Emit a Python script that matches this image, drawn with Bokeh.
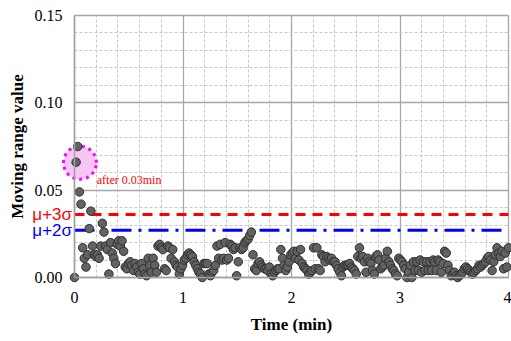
import numpy as np
from bokeh.plotting import figure
from bokeh.models import (Range1d, FixedTicker, NumeralTickFormatter, Label, PolyAnnotation,
                          BoxAnnotation, ColumnDataSource, LinearAxis, Grid)
from bokeh.embed import file_html
from bokeh.resources import INLINE

# ---- data ----
mr_seg1 = [0.000, 0.066, 0.075, 0.049, 0.042, 0.017, 0.011, 0.006, 0.013, 0.028, 0.038, 0.018,
           0.013, 0.012, 0.013, 0.011, 0.018, 0.031, 0.026, 0.018, 0.016, 0.002, 0.020, 0.014,
           0.011, 0.008, 0.019, 0.021, 0.018, 0.021, 0.015, 0.006, 0.005, 0.008, 0.009, 0.007,
           0.004, 0.008, 0.006, 0.003, 0.002, 0.008, 0.005, 0.002, 0.001, 0.011, 0.007, 0.003]
mr_seg2 = [0.011, 0.007, 0.003, 0.018, 0.019, 0.017, 0.016, 0.005, 0.004, 0.018, 0.017, 0.011,
           0.016, 0.009, 0.007, 0.006, 0.002, 0.005, 0.007, 0.010, 0.011, 0.013, 0.014, 0.013,
           0.012, 0.009, 0.007, 0.005, 0.003, 0.002, 0.000, 0.008, 0.008, 0.008, 0.002, 0.001,
           0.003, 0.004, 0.007, 0.018, 0.011, 0.019, 0.010, 0.011, 0.020, 0.010, 0.011, 0.019,
           0.018, 0.016, 0.017, 0.001]
mr_seg3 = [0.009, 0.017, 0.016, 0.017, 0.020, 0.021, 0.022, 0.024, 0.026, 0.013, 0.005, 0.004,
           0.008, 0.009, 0.007, 0.006, 0.005, 0.005, 0.004, 0.006, 0.002, 0.001, 0.003, 0.004,
           0.005, 0.005, 0.016, 0.011, 0.007, 0.004, 0.006, 0.009, 0.013, 0.014, 0.015, 0.011,
           0.015, 0.010, 0.016, 0.008, 0.006, 0.005, 0.004, 0.002, 0.003, 0.004, 0.017, 0.005,
           0.017, 0.005, 0.004, 0.013, 0.012, 0.009]
mr_seg4 = [0.012, 0.011, 0.010, 0.011, 0.009, 0.009, 0.007, 0.005, 0.003, 0.001, 0.006, 0.007,
           0.007, 0.007, 0.008, 0.006, 0.005, 0.004, 0.002, 0.012, 0.017, 0.011, 0.012, 0.009,
           0.003, 0.011, 0.009, 0.008, 0.004, 0.002, 0.012, 0.013, 0.010, 0.005, 0.006, 0.007,
           0.011, 0.015, 0.009, 0.007, 0.005, 0.004, 0.002, 0.001, 0.011, 0.010, 0.009, 0.007,
           0.005, 0.000, 0.003, 0.007]
mr_seg5 = [0.000, 0.009, 0.004, 0.009, 0.004, 0.010, 0.003, 0.009, 0.004, 0.009, 0.004, 0.009,
           0.004, 0.010, 0.009, 0.004, 0.010, 0.009, 0.003, 0.008, 0.015, 0.014, 0.007, 0.004,
           0.001, 0.002, 0.003, 0.001, 0.000, 0.001, 0.002, 0.003, 0.005, 0.006, 0.005, 0.004,
           0.003, 0.002, 0.003, 0.004, 0.005, 0.007, 0.006, 0.007, 0.008, 0.009, 0.011, 0.012,
           0.010, 0.004, 0.009, 0.013, 0.017, 0.014, 0.012, 0.015, 0.005, 0.014, 0.006, 0.017]
moving_range = mr_seg1 + mr_seg2 + mr_seg3 + mr_seg4 + mr_seg5
t_start, t_end = 0.0, 4.0
time_min = np.linspace(t_start, t_end, len(moving_range))

limit_3sigma = 0.036
limit_2sigma = 0.027
limit_labels = ["μ+3σ", "μ+2σ"]
highlight_t, highlight_v = 0.050, 0.0657
note_text = "after 0.03min"
note_t, note_v = 0.205, 0.0556
x_ticks = [0, 1, 2, 3, 4]
y_ticks = [0.0, 0.05, 0.10, 0.15]
y_min, y_max = 0.0, 0.15

serif = "Liberation Serif"
sans = "Liberation Sans"

# ---- layout (pixels) ----
W, H = 511, 341
PLOT_L, PLOT_R, PLOT_T, PLOT_B = 74, 508, 15, 277   # where the data box sits on the canvas
px_per_x = (PLOT_R - PLOT_L) / (t_end - t_start)
px_per_y = (PLOT_B - PLOT_T) / (y_max - y_min)
xr = Range1d(t_start - PLOT_L / px_per_x, t_end + (W - PLOT_R) / px_per_x)
yr = Range1d(y_min - (H - PLOT_B) / px_per_y, y_max + PLOT_T / px_per_y)

p = figure(width=W, height=H, output_backend="svg", toolbar_location=None,
           x_range=xr, y_range=yr, x_axis_location=None, y_axis_location=None,
           min_border=0)
p.background_fill_color = "white"
p.border_fill_color = "white"
p.outline_line_color = None
p.xgrid.visible = False
p.ygrid.visible = False

x_minor = [round(v, 1) for v in np.arange(t_start, t_end + 1e-9, 0.2) if round(v, 1) not in x_ticks]
y_minor = [round(v, 2) for v in np.arange(y_min, y_max + 1e-9, 0.01) if round(v, 2) not in y_ticks]
xticker = FixedTicker(ticks=x_ticks, minor_ticks=x_minor)
yticker = FixedTicker(ticks=y_ticks, minor_ticks=y_minor)

xgrid = Grid(dimension=0, ticker=xticker, bounds=(t_start, t_end))
ygrid = Grid(dimension=1, ticker=yticker, bounds=(y_min, y_max))
has_cross = "cross_bounds" in Grid.properties()
for g, cb in ((xgrid, (y_min, y_max)), (ygrid, (t_start, t_end))):
    g.grid_line_color = "#a6a6a6"
    g.grid_line_width = 1.3
    g.minor_grid_line_color = "#c8c8c8"
    g.minor_grid_line_dash = "3 2"
    g.minor_grid_line_width = 1
    if has_cross:
        g.cross_bounds = cb
    p.add_layout(g)

if not has_cross:
    mask = dict(fill_color="white", fill_alpha=1.0, line_color=None, level="underlay")
    p.add_layout(BoxAnnotation(left=xr.start, right=t_start, bottom=yr.start, top=yr.end, **mask))
    p.add_layout(BoxAnnotation(left=xr.start, right=xr.end, bottom=yr.start, top=y_min, **mask))
    p.add_layout(BoxAnnotation(left=xr.start, right=xr.end, bottom=y_max, top=yr.end, **mask))
    p.add_layout(BoxAnnotation(left=t_end, right=xr.end, bottom=yr.start, top=yr.end, **mask))

xaxis = LinearAxis(fixed_location=y_min, ticker=xticker, bounds=(t_start, t_end),
                   axis_label="Time (min)")
yaxis = LinearAxis(fixed_location=t_start, ticker=yticker, bounds=(y_min, y_max),
                   axis_label="Moving range value",
                   formatter=NumeralTickFormatter(format="0.00"))
for ax in (xaxis, yaxis):
    ax.axis_line_color = "#a0a0a0"
    ax.axis_line_width = 1.5
    ax.major_tick_line_color = None
    ax.minor_tick_line_color = None
    ax.major_tick_out = 0
    ax.major_tick_in = 0
    ax.minor_tick_out = 0
    ax.minor_tick_in = 0
    ax.major_label_text_font = serif
    ax.major_label_text_font_size = "16px"
    ax.major_label_text_color = "#000000"
    ax.axis_label_text_font = serif
    ax.axis_label_text_font_style = "bold"
    ax.axis_label_text_font_size = "17px"
    ax.axis_label_text_color = "#000000"
xaxis.major_label_standoff = 14
xaxis.axis_label_standoff = 9
yaxis.major_label_standoff = 12
yaxis.axis_label_standoff = 5
p.add_layout(xaxis, "below")
p.add_layout(yaxis, "left")

# highlight ring around the first peak
ring_px = 16.5
ang = np.linspace(0, 2 * np.pi, 72)
p.add_layout(PolyAnnotation(xs=list(highlight_t + ring_px / px_per_x * np.cos(ang)),
                            ys=list(highlight_v + ring_px / px_per_y * np.sin(ang)),
                            fill_color="#f6c6f6", fill_alpha=1.0,
                            line_color="#ff00ff", line_alpha=1.0, line_width=3,
                            line_dash="3 4", level="underlay"))

# control limits
p.segment(x0=[t_start], x1=[t_end], y0=[limit_3sigma], y1=[limit_3sigma],
          line_color="#ff0000", line_width=3, line_dash="10 7")
p.segment(x0=[t_start], x1=[t_end], y0=[limit_2sigma], y1=[limit_2sigma],
          line_color="#0000ff", line_width=3, line_dash="20 7 3 7")

src = ColumnDataSource(dict(t=time_min, v=moving_range))
p.scatter("t", "v", source=src, size=8.5, fill_color="#626262", line_color="#2f2f2f",
          line_width=1)

for loc, txt, col in ((limit_3sigma, limit_labels[0], "#ff0000"),
                      (limit_2sigma, limit_labels[1], "#0000ff")):
    p.add_layout(Label(x=t_start - 2.5 / px_per_x, y=loc, text=txt, text_align="right",
                       text_baseline="middle", text_color=col,
                       text_font=sans, text_font_size="17px"))

p.add_layout(Label(x=note_t, y=note_v, text=note_text, text_align="left",
                   text_baseline="middle", text_color="#ff0000",
                   text_font=serif, text_font_size="12px"))

open("out.html", "w").write(file_html(p, INLINE))
